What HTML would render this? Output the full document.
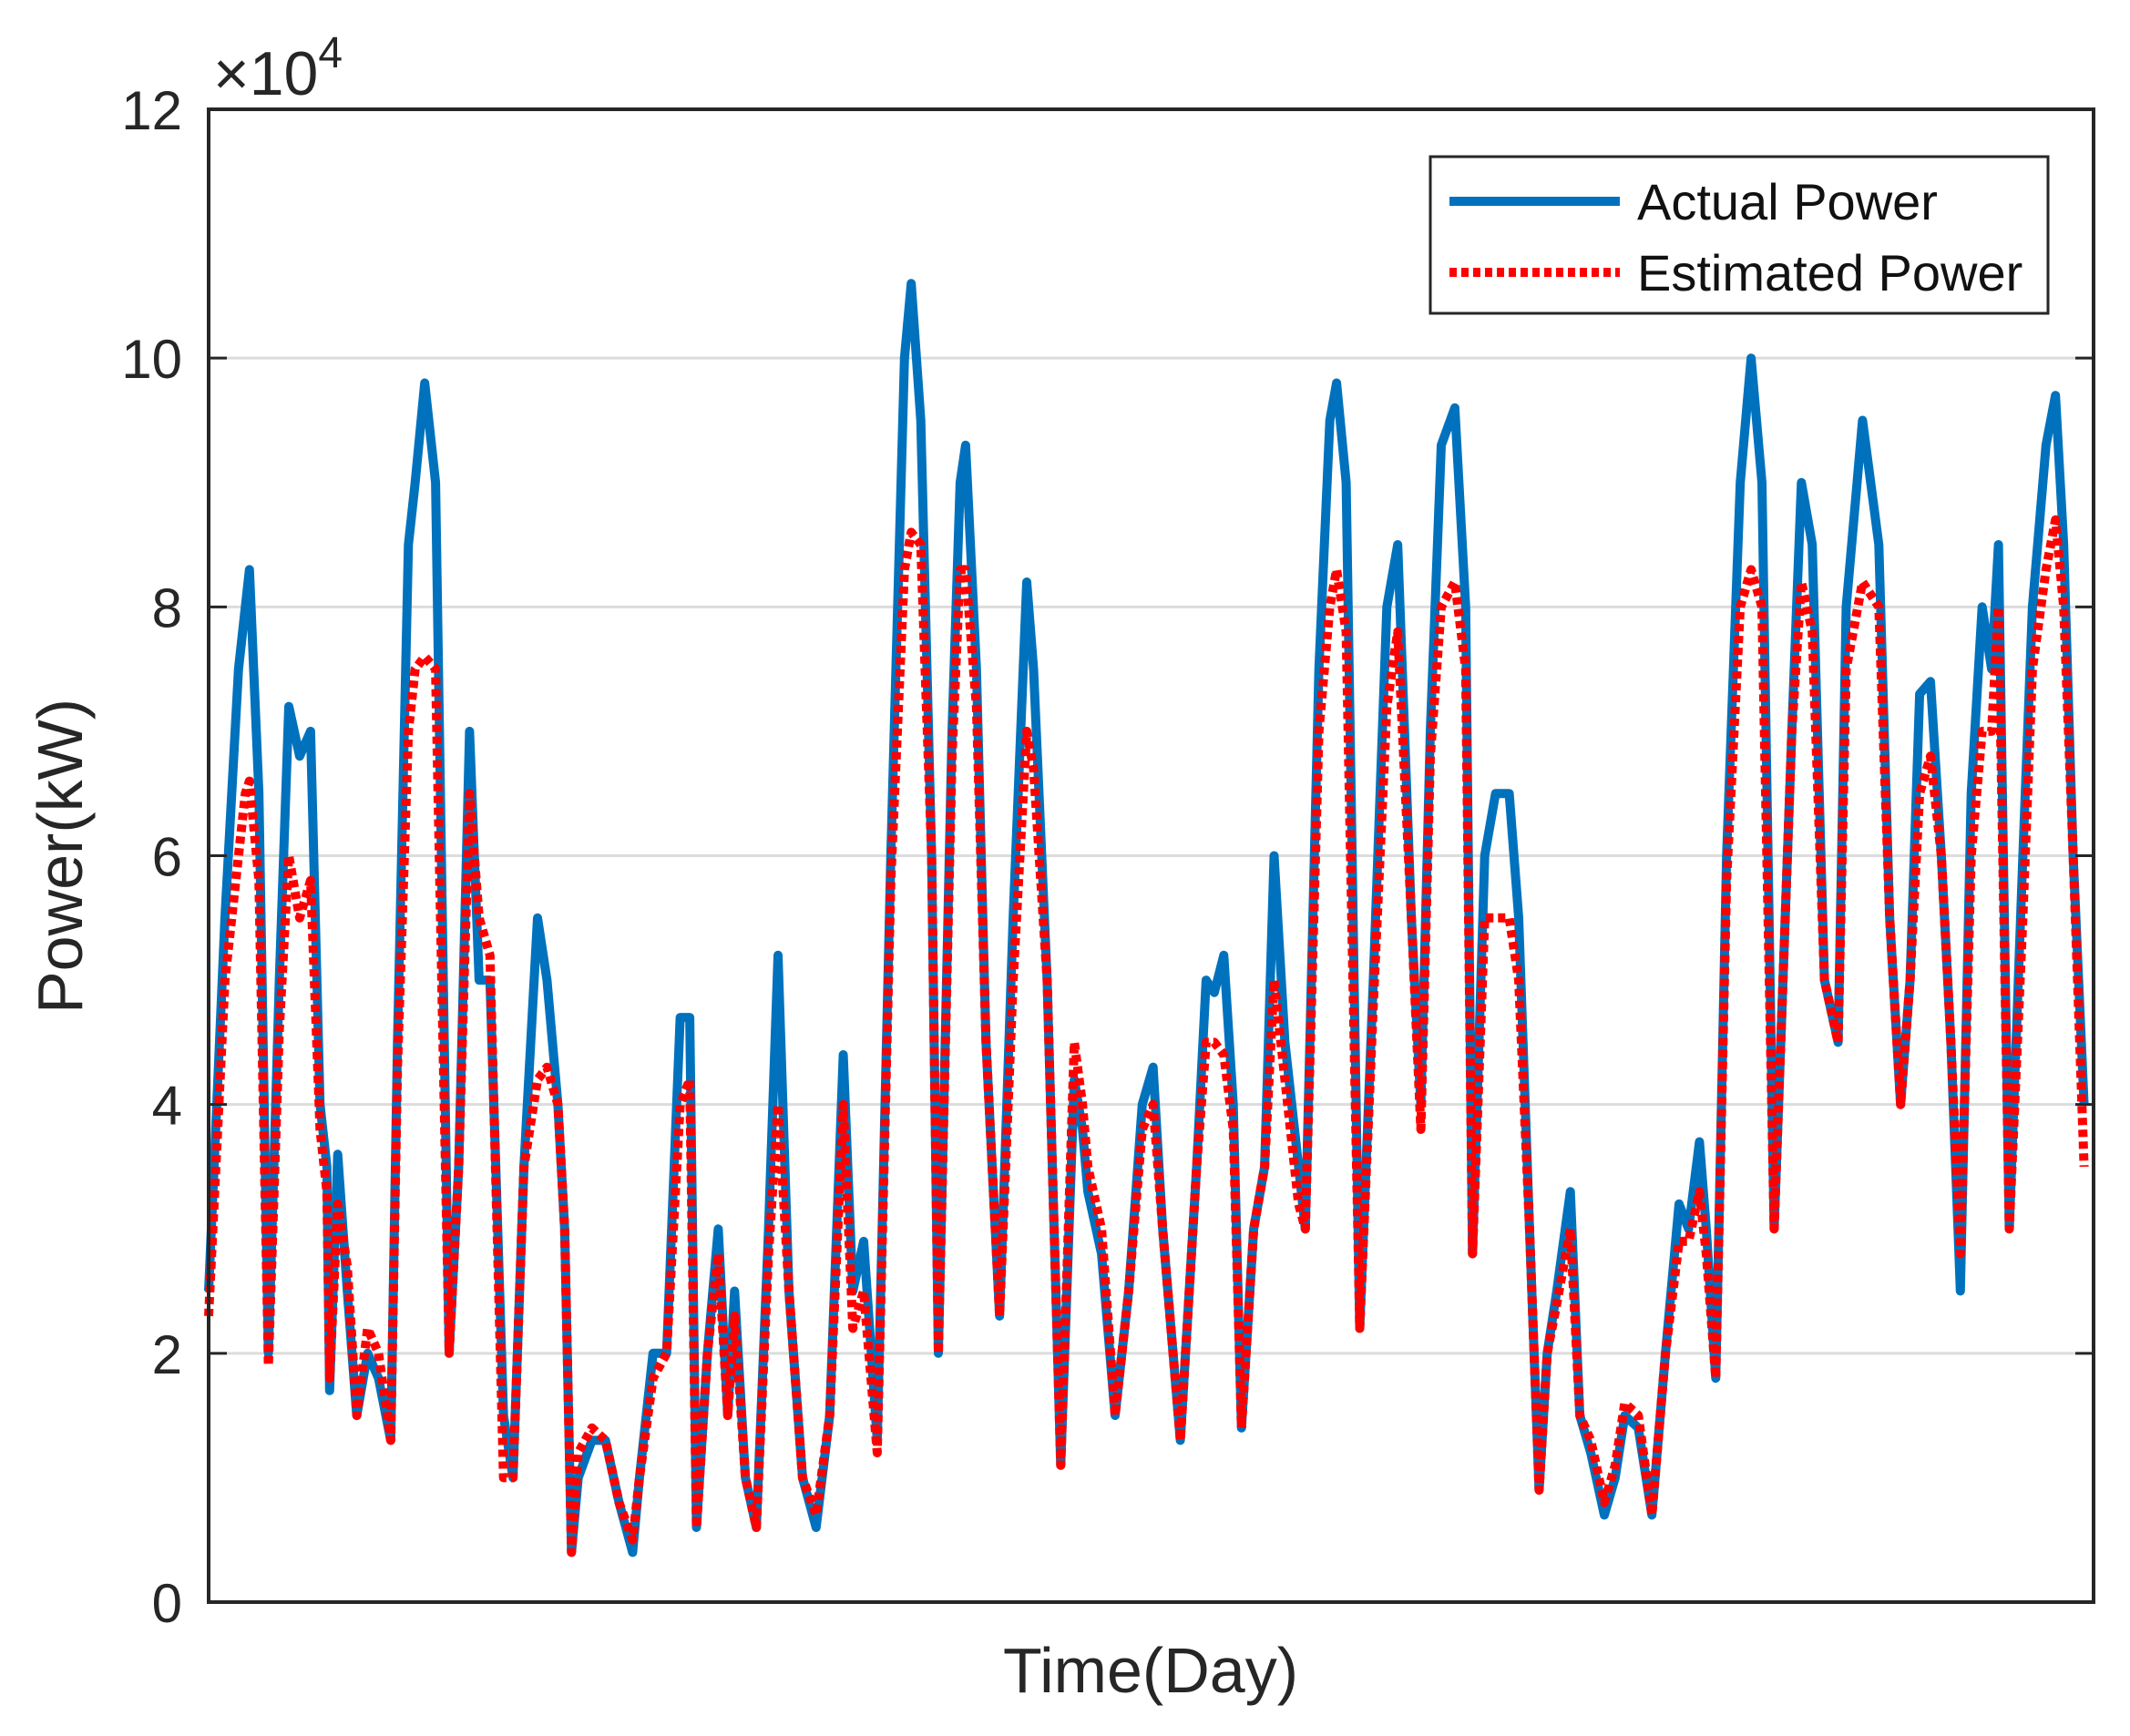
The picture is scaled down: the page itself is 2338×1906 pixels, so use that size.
<!DOCTYPE html>
<html><head><meta charset="utf-8"><style>
body{margin:0;background:#fff}
svg{display:block;font-family:"Liberation Sans",Arial,sans-serif}
</style></head><body>
<svg id="chart" width="2338" height="1906" viewBox="0 0 2338 1906" xmlns="http://www.w3.org/2000/svg">
<rect width="2338" height="1906" fill="#fff"/>
<g id="grid"></g>
<g id="series"></g>
<rect x="229" y="120" width="2069" height="1639" fill="none" stroke="#262626" stroke-width="4"/>
<g id="ticks"></g>
<text x="234" y="104" font-size="68" fill="#262626">×10<tspan font-size="48" dy="-30">4</tspan></text>
<text x="1263" y="1858" font-size="70" fill="#262626" text-anchor="middle">Time(Day)</text>
<text transform="translate(90,940) rotate(-90)" font-size="70" fill="#262626" text-anchor="middle">Power(kW)</text>
<g>
<rect x="1570" y="172" width="678" height="172" fill="#fff" stroke="#262626" stroke-width="3"/>
<line x1="1591" y1="221" x2="1778" y2="221" stroke="#0072BD" stroke-width="10"/>
<text x="1797" y="241" font-size="56" fill="#111">Actual Power</text>
<line x1="1591" y1="299" x2="1778" y2="299" stroke="#FF0000" stroke-width="10" stroke-dasharray="8,5"/>
<text x="1797" y="319" font-size="56" fill="#111">Estimated Power</text>
</g>
</svg>
<script>
const times=[0,12,22,27,30,37,44,52,59,67,75,82,87,89,95,102,109,117,125,134,139,147,152,159,167,177,184,192,199,207,217,224,232,242,249,257,262,267,272,282,292,302,312,317,327,337,347,354,359,367,375,382,387,395,403,412,419,427,437,447,457,467,474,482,492,502,512,517,524,532,537,547,553,557,565,572,582,592,602,607,617,627,637,643,647,657,667,677,687,695,702,715,727,734,740,747,754,760,769,777,784,792,802,807,817,825,830,837,847,857,867,875,885,892,899,907,917,925,930,939,947,957,964,972,979,985,992,1002,1009,1017,1027,1035,1042,1052,1062,1072,1082,1089,1097,1102,1109,1117,1127,1135,1143,1152,1165,1172,1180,1189,1199,1205,1217,1229,1237,1245,1252,1259,1267,1275,1282,1289,1297,1305,1312,1317,1325,1335,1342,1352,1359,1365,1372,1380,1387];
const actual=[2.5,5.5,7.5,8.0,8.3,6.5,2.0,5.0,7.2,6.8,7.0,4.0,3.5,1.7,3.6,2.5,1.5,2.0,1.8,1.3,4.5,8.5,9.0,9.8,9.0,2.0,3.5,7.0,5.0,5.0,1.5,1.0,3.5,5.5,5.0,4.0,3.0,0.4,1.0,1.3,1.3,0.8,0.4,1.0,2.0,2.0,4.7,4.7,0.6,2.0,3.0,1.5,2.5,1.0,0.6,3.0,5.2,2.5,1.0,0.6,1.5,4.4,2.5,2.9,1.3,6.0,10.0,10.6,9.5,6.0,2.0,7.0,9.0,9.3,7.5,4.5,2.3,5.5,8.2,7.5,5.0,1.1,4.2,3.8,3.3,2.8,1.5,2.5,4.0,4.3,3.0,1.3,3.5,5.0,4.9,5.2,4.0,1.4,3.0,3.5,6.0,4.5,3.5,3.0,7.5,9.5,9.8,9.0,2.2,5.0,8.0,8.5,5.5,4.0,7.0,9.3,9.6,8.0,2.8,6.0,6.5,6.5,5.5,3.0,0.9,2.0,2.5,3.3,1.5,1.2,0.7,1.0,1.5,1.4,0.7,2.0,3.2,3.0,3.7,3.0,1.8,6.0,9.0,10.0,9.0,3.0,7.0,9.0,8.5,5.0,4.5,8.0,9.5,8.5,5.5,4.0,5.0,7.3,7.4,6.0,4.5,2.5,6.5,8.0,7.5,8.5,3.0,6.0,8.0,9.3,9.7,8.5,6.0,4.0];
const estimated=[2.3,5.0,6.0,6.5,6.6,5.8,1.9,4.6,6.0,5.5,5.8,3.8,3.3,1.8,3.2,2.7,1.5,2.2,2.0,1.3,4.3,7.0,7.5,7.6,7.5,2.0,3.5,6.5,5.5,5.2,1.0,1.0,3.5,4.2,4.3,4.0,3.0,0.4,1.2,1.4,1.3,0.8,0.5,1.0,1.8,2.0,4.0,4.2,0.6,2.0,2.8,1.5,2.3,1.0,0.6,2.8,4.0,2.5,1.0,0.7,1.5,4.0,2.2,2.5,1.2,5.8,8.3,8.6,8.5,6.0,2.0,6.8,8.3,8.3,7.2,4.5,2.3,5.0,7.0,6.7,5.0,1.1,4.5,4.0,3.5,3.0,1.5,2.5,3.8,4.0,3.0,1.3,3.5,4.5,4.5,4.4,3.8,1.4,3.0,3.5,5.0,4.2,3.2,3.0,7.0,8.0,8.3,7.8,2.2,4.8,7.2,7.8,5.5,3.8,6.8,8.0,8.2,7.5,2.8,5.5,5.5,5.5,5.0,3.0,0.9,2.0,2.4,3.0,1.5,1.3,0.8,1.1,1.6,1.5,0.7,2.0,2.9,2.9,3.3,2.8,1.8,5.8,8.0,8.3,8.0,3.0,7.0,8.2,7.8,5.0,4.5,7.5,8.2,8.0,5.5,4.0,5.0,6.5,6.8,6.0,4.5,2.8,6.0,7.0,7.0,8.0,3.0,5.5,7.5,8.3,8.7,8.0,6.0,3.5];
const yTicks=[0,2,4,6,8,10,12];
const X0=229,X1=2298,Y0=1759,Y1=120;
const xs=t=>X0+(t-times[0])/(times[times.length-1]-times[0])*(X1-X0);
const ys=v=>Y0-v/12*(Y0-Y1);
const NS='http://www.w3.org/2000/svg';
const grid=document.getElementById('grid'),ticks=document.getElementById('ticks'),ser=document.getElementById('series');
yTicks.forEach(v=>{
  const y=ys(v);
  if(v>0&&v<12){
    const g=document.createElementNS(NS,'line');
    g.setAttribute('x1',X0);g.setAttribute('x2',X1);g.setAttribute('y1',y);g.setAttribute('y2',y);
    g.setAttribute('stroke','#dcdcdc');g.setAttribute('stroke-width','3');
    
    
    grid.appendChild(g);
    [[X0,X0+20],[X1-20,X1]].forEach(p=>{
      const t=document.createElementNS(NS,'line');
      t.setAttribute('x1',p[0]);t.setAttribute('x2',p[1]);t.setAttribute('y1',y);t.setAttribute('y2',y);
      t.setAttribute('stroke','#262626');t.setAttribute('stroke-width','3');
      
      
      ticks.appendChild(t);
    });
  }
  const l=document.createElementNS(NS,'text');
  l.setAttribute('x',200);l.setAttribute('y',y+22);l.setAttribute('text-anchor','end');
  l.setAttribute('font-size','60');l.setAttribute('fill','#262626');
  l.textContent=v;
  
  
  ticks.appendChild(l);
});
function path(vals,color,dash,name){
  const p=document.createElementNS(NS,'path');
  p.setAttribute('d',vals.map((v,i)=>(i?'L':'M')+xs(times[i]).toFixed(1)+','+ys(v).toFixed(1)).join(''));
  p.setAttribute('fill','none');p.setAttribute('stroke',color);p.setAttribute('stroke-width','10');
  p.setAttribute('stroke-linejoin','round');
  if(dash)p.setAttribute('stroke-dasharray',dash);
  
  
  ser.appendChild(p);
}
path(actual,'#0072BD',null,'actual-power-line');
path(estimated,'#FF0000','8,5','estimated-power-line');
</script>
</body></html>
